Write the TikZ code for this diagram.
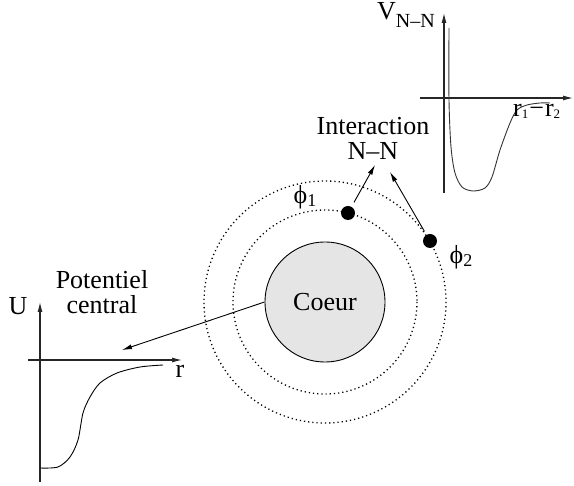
\documentclass[tikz,border=0pt]{standalone}
\usepackage{fontspec}
\setmainfont{Liberation Serif}
\usetikzlibrary{arrows.meta}
\begin{document}
\begin{tikzpicture}[x=1pt,y=-1pt,
  txt/.style={font=\fontsize{26}{25}\selectfont, inner sep=0pt},
  orbit/.style={line width=1.3pt, dash pattern=on 1.2pt off 3pt, black},
  elec/.style={circle, fill=black, minimum size=14pt, inner sep=0pt},
  axis/.style={line width=1.1pt, black!85, -{Latex[length=10pt,width=5pt]}},
  conn/.style={line width=0.9pt, -{Latex[length=10pt,width=5pt]}},
  pot/.style={line width=0.9pt}]
\useasboundingbox (0,0) rectangle (574,486);
% orbits and core
\draw[orbit] (325,302) circle[radius=121];
\draw[orbit] (325,302) circle[radius=92];
\node[circle, draw, line width=0.9pt, fill=gray!20, minimum size=120pt, inner sep=0pt, txt] (core) at (325,302) {Coeur};
\node[elec] (e1) at (348,213) {};
\node[elec] (e2) at (430,241) {};
\node[txt] (p1) at (305,197) {ϕ\raisebox{-3pt}{\fontsize{18}{18}\selectfont 1}};
\node[txt] (p2) at (461,257) {ϕ\raisebox{-3pt}{\fontsize{18}{18}\selectfont 2}};
\node[txt, align=center] (inter) at (373,138) {Interaction\\N–N};
\coordinate (t1) at (375,165);
\coordinate (t2) at (390,172);
\draw[conn, shorten <=5pt] (e1) -- (t1);
\draw[conn, shorten <=4pt] (e2) -- (t2);
% central potential
\coordinate (tc) at (122,350);
\draw[conn] (core.west) -- (tc);
\draw[axis] (40,482) -- (40,302);
\draw[axis] (28,360) -- (182,360);
\node[txt] (ulab) at (18,306) {U};
\node[txt, anchor=base] (rlab) at (180,378) {r};
\node[txt, align=center] (pc) at (102,292) {Potentiel\\central};
\draw[pot] plot[smooth] coordinates {(40,468) (58,467) (70,457) (78,440) (83,413) (90,397) (100,383) (117,373) (140,367) (163,365)};
% N-N potential
\draw[axis] (444,193) -- (444,13);
\draw[axis] (420,98) -- (573,98);
\draw[pot, black!80] plot[smooth] coordinates {(449,28) (449,100) (451,147) (455,173) (462,187) (473,191) (485,188) (492,177) (500,150) (510,123) (517,110) (527,105) (540,103) (550,103)};
\node[txt, anchor=base west] (vlab) at (377,20) {V\raisebox{-8pt}{\fontsize{20}{20}\selectfont N–N}};
\node[txt, anchor=base west] (rrlab) at (513,117) {r\raisebox{-2pt}{\fontsize{13}{13}\selectfont 1}\kern1pt−\kern1pt r\raisebox{-2pt}{\fontsize{13}{13}\selectfont 2}};
\end{tikzpicture}
\end{document}
